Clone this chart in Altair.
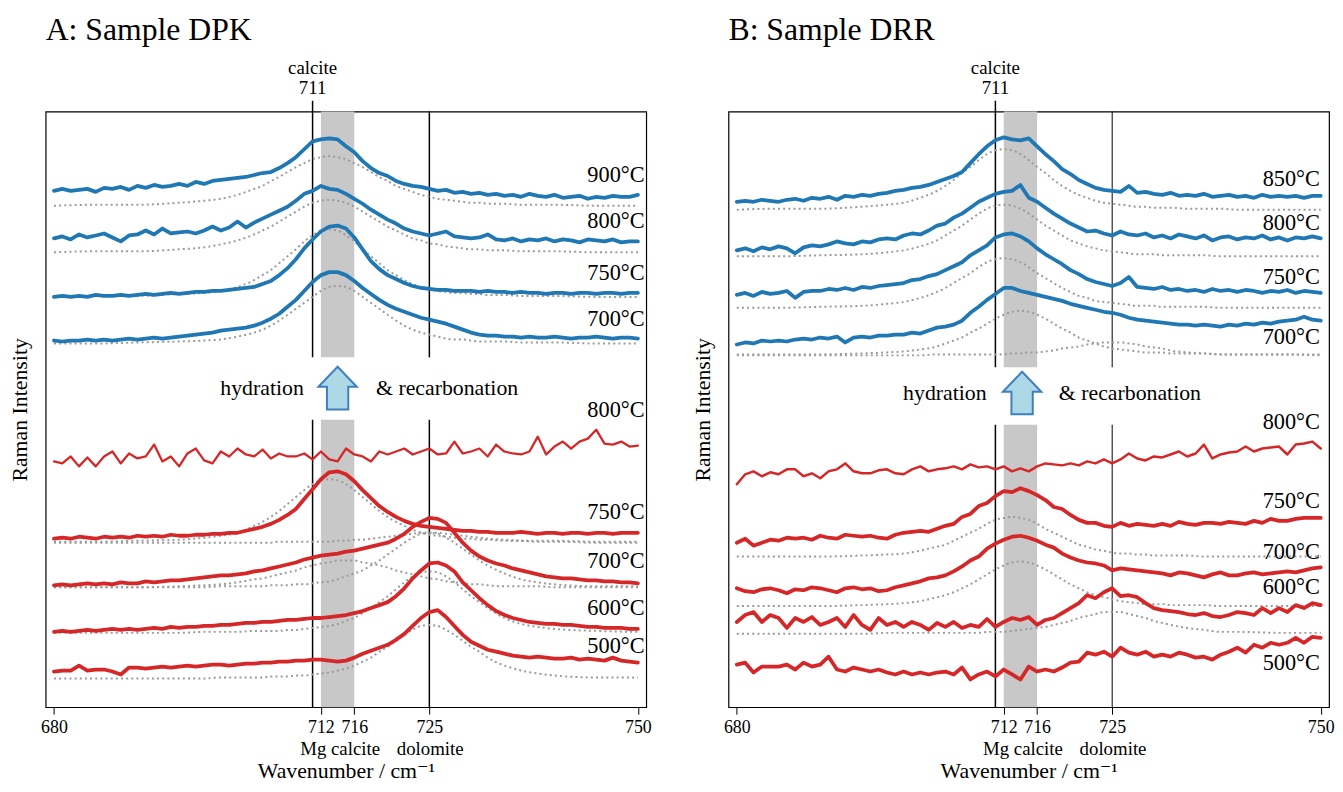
import altair as alt
import pandas as pd

# ---------------- data ----------------
WN = list(range(680, 751))          # spectrum sample grid (cm-1)
FX = [680, 685, 690, 695, 698, 700, 702, 704, 705, 706, 707, 708, 709, 710, 711,
      712, 713, 714, 715, 716, 717, 718, 719, 720, 721, 722, 723, 724, 725, 726,
      727, 728, 729, 730, 731, 732, 734, 736, 738, 740, 745, 750]   # fit sample grid

# Panel A (DPK) spectra, stacked intensity
A_900 = [521,523,521,522,523,520,524,523,525,522,
         526,524,527,525,526,528,526,530,528,531,
         532,533,534,535,537,539,540,544,549,555,
         563,571,573,574,573,566,560,551,544,539,
         536,531,528,526,525,523,521,522,519,520,
         518,519,517,518,516,517,515,518,516,515,
         517,514,515,516,513,515,514,516,515,515,
         517]
A_800 = [473,475,472,477,474,476,478,474,470,476,
         477,481,477,483,478,479,480,478,481,485,
         481,484,490,484,489,493,497,501,505,511,
         518,521,526,523,522,518,513,508,502,497,
         492,488,483,480,478,476,478,480,475,474,
         473,474,477,472,471,473,470,472,471,473,
         470,472,471,469,472,471,470,472,469,470,
         470]
A_750 = [414,415,414,415,414,416,415,415,416,415,
         416,417,416,417,418,417,418,419,419,420,
         420,421,422,423,424,427,430,436,443,452,
         463,472,480,485,486,483,474,462,450,442,
         436,432,428,425,423,422,421,421,420,420,
         420,419,420,419,419,418,419,418,418,417,
         418,418,417,418,418,417,418,418,417,418,
         418]
A_700 = [370,369,370,370,371,370,371,370,371,372,
         371,372,373,372,373,374,375,376,377,378,
         380,381,382,383,385,388,392,397,404,411,
         420,429,436,439,439,436,430,423,417,411,
         406,402,399,396,393,391,389,387,384,381,
         378,376,375,375,374,374,373,374,373,373,
         374,373,372,373,373,374,373,372,373,373,
         372]
AR_800 = [248,246,253,243,252,243,253,258,246,256,
          251,253,265,248,253,243,256,261,249,246,
          258,253,261,255,253,260,251,256,253,253,
          256,250,258,250,248,261,255,253,248,258,
          255,258,261,255,258,261,255,256,268,256,
          258,261,253,265,258,256,255,258,273,255,
          263,268,261,268,271,280,266,265,268,263,
          264]
AR_750 = [170,171,170,172,171,170,172,171,172,171,
          173,172,173,172,174,173,173,174,174,175,
          175,176,176,178,180,182,185,189,194,200,
          210,220,230,237,238,235,228,219,211,203,
          197,192,188,185,183,182,181,180,179,178,
          178,177,177,176,176,176,177,176,175,176,
          176,175,176,176,175,176,176,175,176,176,
          176]
AR_700 = [123,124,123,124,125,124,125,124,126,125,
          125,127,126,127,128,128,129,130,131,132,
          133,133,134,135,137,138,140,142,144,146,
          149,151,153,154,155,157,158,160,162,164,
          166,170,175,182,187,191,190,186,176,166,
          158,152,148,145,143,140,138,136,134,132,
          131,130,130,129,128,128,127,127,126,126,
          125]
AR_600 = [76,77,76,77,78,77,78,79,78,79,
          78,79,80,79,81,80,81,81,82,82,
          83,83,84,85,85,86,86,87,88,88,
          89,90,90,91,92,93,95,97,100,103,
          106,112,120,130,138,145,146,143,137,126,
          118,110,103,97,93,90,88,86,85,84,
          84,83,83,82,81,81,80,80,80,79,
          79]
AR_500 = [36,37,37,42,37,38,38,36,33,40,
          40,39,40,41,40,41,42,41,42,43,
          43,42,43,44,44,45,45,46,46,47,
          47,48,48,47,46,47,50,54,57,60,
          63,68,74,82,90,96,98,91,82,73,
          66,62,58,56,54,52,51,50,51,50,
          49,49,50,48,49,48,47,50,47,46,
          45]

# Panel B (DRR) spectra
B_850 = [510,511,510,512,511,510,512,513,511,514,
         513,515,512,516,515,517,516,518,519,521,
         522,524,525,527,530,533,536,540,549,558,
         566,572,575,573,572,574,566,558,551,543,
         538,532,528,524,522,521,520,526,519,520,
         518,517,519,516,517,516,518,515,516,517,
         515,516,514,517,515,516,515,516,514,516,
         516]
B_800 = [461,463,460,464,462,465,463,458,464,466,
         465,467,470,468,467,470,469,472,473,472,
         476,478,477,481,486,488,494,498,504,510,
         514,518,520,521,527,514,510,504,498,493,
         488,484,480,481,478,476,480,477,476,478,
         474,476,473,477,475,473,476,471,474,475,
         472,474,473,476,472,474,471,474,473,475,
         473]
B_750 = [416,418,415,419,417,418,420,413,419,420,
         420,422,421,423,421,424,423,425,426,427,
         428,431,432,435,437,441,445,449,456,461,
         466,474,477,478,475,470,463,457,452,447,
         441,437,432,429,427,425,428,434,424,423,
         422,424,421,422,420,421,419,422,420,421,
         419,421,420,418,420,419,421,418,420,419,
         418]
B_700 = [366,368,367,370,369,370,369,371,372,371,
         373,372,374,368,373,374,373,375,375,376,
         376,378,377,380,383,384,386,390,398,404,
         411,417,423,423,420,418,416,414,412,410,
         407,405,403,401,399,398,396,393,391,390,
         389,388,387,386,386,385,386,385,384,386,
         385,387,386,388,387,389,390,391,394,391,
         390]
BR_800 = [225,235,238,233,237,235,240,240,233,236,
          231,238,240,246,238,236,236,239,240,236,
          235,240,243,238,240,241,243,240,245,242,
          243,240,243,238,241,238,243,246,245,244,
          246,244,248,246,250,246,250,256,251,249,
          253,252,255,258,253,256,265,251,255,257,
          258,263,258,261,262,263,255,265,266,268,
          261]
BR_750 = [166,170,163,166,169,168,171,170,171,169,
          173,171,170,174,173,172,173,171,170,174,
          176,177,178,177,180,183,185,192,195,203,
          206,213,218,217,221,218,214,209,202,200,
          194,189,186,186,183,182,186,183,185,184,
          183,185,183,187,185,184,186,186,185,187,
          186,185,188,186,190,188,188,190,191,191,
          191]
BR_700 = [120,117,116,119,120,118,115,119,118,121,
          120,118,116,120,121,119,120,117,118,121,
          123,125,127,130,131,133,137,142,148,152,
          160,165,169,172,173,171,168,164,161,155,
          151,148,146,145,143,138,140,139,138,137,
          136,135,133,136,135,133,131,134,136,133,
          133,135,136,134,135,136,137,136,138,140,
          141]
BR_600 = [86,93,96,86,93,90,80,90,86,91,
          83,86,90,81,93,83,78,90,83,86,
          81,86,83,78,85,81,86,80,83,81,
          89,81,86,90,88,91,83,88,90,95,
          100,105,113,110,116,120,112,113,111,105,
          100,98,97,96,94,93,95,92,91,93,
          96,95,93,100,95,100,96,103,100,105,
          103]
BR_500 = [43,45,35,41,41,41,43,38,45,41,
          43,51,38,36,40,38,36,38,35,33,
          36,33,35,33,35,36,33,40,28,33,
          36,31,38,33,28,41,36,38,36,40,
          45,46,55,53,56,51,60,55,53,56,
          51,53,51,55,53,50,51,48,53,56,
          60,55,63,60,65,63,65,70,65,71,
          70]

# fitted components (height above their own baseline) and baselines
F_A900 = [1,2,2,4,6,8,12,18,21,26,30,35,40,44,48,50,51,50,48,44,40,35,30,26,21,18,15,12,10,8,7,6,5,4,4,3,3,2,2,2,1,1]
F_A800 = [1,2,2,4,6,9,13,19,23,27,32,37,42,47,51,53,54,53,51,47,42,37,32,27,23,19,15,13,10,9,7,6,5,4,4,3,3,2,2,2,1,1]
F_A750 = [1,2,2,4,5,7,11,18,23,28,35,42,49,57,63,68,69,68,63,57,49,42,35,28,23,18,14,11,9,7,6,5,5,4,4,3,3,2,2,2,1,1]
F_A700 = [1,1,2,3,4,5,8,12,15,19,24,30,36,42,48,54,58,59,58,54,48,42,36,30,24,19,15,12,10,8,6,5,5,4,3,3,3,2,2,2,1,1]
F_AR750a = [1,1,2,3,5,7,10,17,21,26,32,39,46,53,59,63,64,63,59,53,46,39,32,26,21,17,13,10,8,7,6,5,4,4,3,3,2,2,2,2,1,1]
F_AR750b = [0,0,0,0,0,0,0,0,0,0,1,1,1,1,1,1,1,2,2,3,3,4,5,6,7,8,9,10,10,10,9,8,7,6,5,4,3,2,1,1,0,0]
F_AR700a = [1,1,1,2,3,4,6,9,10,12,14,16,18,21,23,25,26,28,28,28,26,25,23,21,18,16,14,12,10,9,7,6,5,4,4,3,2,2,2,1,1,1]
F_AR700b = [1,1,1,1,1,2,2,2,2,3,3,3,4,4,5,6,7,9,12,15,18,23,28,34,40,46,51,55,56,55,51,46,40,34,28,23,15,9,6,4,2,2]
F_AR600 = [1,1,1,1,2,2,2,3,3,3,3,4,4,5,6,7,8,10,13,16,21,26,32,38,45,52,58,62,63,62,58,52,45,38,32,26,16,10,7,5,3,2]
F_AR500 = [1,1,1,1,1,2,2,2,2,3,3,3,4,4,5,6,7,9,11,14,18,22,28,33,39,45,50,54,55,54,50,45,39,33,28,22,14,9,6,4,2,2]
F_B850 = [1,2,2,4,6,8,13,20,25,31,38,44,51,57,61,62,61,57,51,44,38,31,25,20,16,13,10,8,7,6,5,4,4,3,3,3,2,2,2,1,1,1]
F_B800 = [1,1,2,3,5,7,11,17,22,27,32,38,44,49,52,53,52,49,44,38,32,27,22,17,14,11,9,7,6,5,4,3,3,3,2,2,2,2,1,1,1,1]
F_B750 = [1,1,2,3,5,7,11,17,21,26,31,36,42,47,50,51,50,47,42,36,31,26,21,17,13,11,8,7,6,5,4,3,3,3,2,2,2,2,1,1,1,1]
F_B700a = [1,1,1,2,3,4,6,9,12,15,18,23,27,32,37,41,44,45,44,41,37,32,27,23,18,15,12,9,7,6,5,4,3,3,3,2,2,2,1,1,1,1]
F_B700b = [0,0,0,0,0,0,0,1,1,1,1,1,1,1,1,1,2,2,3,3,4,5,7,8,9,11,12,13,13,13,12,11,9,8,7,5,3,2,1,1,1,0]
F_BR750 = [1,1,1,2,3,4,7,11,13,17,21,25,29,34,38,40,41,40,38,34,29,25,21,17,13,11,8,7,5,4,4,3,3,2,2,2,2,1,1,1,1,1]
F_BR700 = [1,1,1,2,3,4,6,10,12,15,19,23,28,33,38,42,45,46,45,42,38,33,28,23,19,15,12,10,8,6,5,4,3,3,3,2,2,2,1,1,1,1]
F_BR600 = [0,0,0,0,1,1,1,1,1,1,1,1,1,2,2,2,3,4,5,6,7,9,11,13,16,18,20,22,22,22,20,18,16,13,11,9,6,4,2,2,1,1]

A_TEMPS = ["900°C", "800°C", "750°C", "700°C", "800°C", "750°C", "700°C", "600°C", "500°C"]
A_TEMP_Y = [537, 491, 438, 392, 300, 197, 147, 100, 62]
B_TEMPS = ["850°C", "800°C", "750°C", "700°C", "800°C", "750°C", "700°C", "600°C", "500°C"]
B_TEMP_Y = [533, 489, 434, 373, 288, 208, 157, 121, 45]

X_TICKS = [680, 712, 716, 725, 750]

BLUE = "#1f77b4"
RED = "#d62728"

A_SPECTRA = [("a900", BLUE, 3.8, A_900), ("a800", BLUE, 3.8, A_800), ("a750", BLUE, 3.8, A_750),
             ("a700", BLUE, 3.8, A_700), ("ar800", RED, 2.3, AR_800), ("ar750", RED, 3.8, AR_750),
             ("ar700", RED, 3.8, AR_700), ("ar600", RED, 3.8, AR_600), ("ar500", RED, 3.8, AR_500)]
B_SPECTRA = [("b850", BLUE, 3.8, B_850), ("b800", BLUE, 3.8, B_800), ("b750", BLUE, 3.8, B_750),
             ("b700", BLUE, 3.8, B_700), ("br800", RED, 2.5, BR_800), ("br750", RED, 3.8, BR_750),
             ("br700", RED, 3.8, BR_700), ("br600", RED, 3.8, BR_600), ("br500", RED, 3.8, BR_500)]
A_FITS = [("f1", 505, F_A900), ("f2", 458, F_A800), ("f3", 413, F_A750), ("f4", 366, F_A700),
          ("f5", 166, F_AR750a), ("f6", 166, F_AR750b), ("f7", 120, F_AR700a), ("f8", 120, F_AR700b),
          ("f9", 74, F_AR600), ("f10", 28, F_AR500)]
B_FITS = [("g1", 501, F_B850), ("g2", 454, F_B800), ("g3", 402, F_B750), ("g4", 355, F_B700a),
          ("g5", 355, F_B700b), ("g6", 151, F_BR750), ("g7", 101, F_BR700), ("g8", 74, F_BR600)]

for _n, _c, _w, _v in A_SPECTRA + B_SPECTRA:
    assert len(_v) == len(WN), (_n, len(_v))
for _n, _b, _v in A_FITS + B_FITS:
    assert len(_v) == len(FX), (_n, len(_v))

FONT = "'Liberation Serif', 'Times New Roman', 'DejaVu Serif', serif"
W, H = 606, 601
ARROW = "M0,-1 L0.9,-0.06 L0.5,-0.06 L0.5,1 L-0.5,1 L-0.5,-0.06 L-0.9,-0.06 Z"


def panel(title, spectra, fits, temps, temp_y, temp_x, up_lo, low_hi, arrow_x, arrow_y, w725,
          hyd_x, rec_x):
    xs = alt.Scale(domain=[679, 751], nice=False)
    ys = alt.Scale(domain=[0, 601], nice=False, zero=False)
    xax = alt.Axis(values=X_TICKS, title="Wavenumber / cm⁻¹", format="d", labelFlush=False,
                   labelOverlap=False, grid=False, domain=False, ticks=True, tickSize=7,
                   tickColor="black", tickWidth=1, labelFontSize=18, labelPadding=5,
                   titleFontSize=22, titlePadding=24, labelFont=FONT, titleFont=FONT,
                   labelColor="black", titleColor="black", titleFontWeight="normal")
    yax = alt.Axis(title="Raman Intensity", labels=False, ticks=False, domain=False, grid=False,
                   titleFontSize=22, titlePadding=14, titleFont=FONT, titleColor="black",
                   titleFontWeight="normal")
    X = alt.X("x:Q", scale=xs, axis=xax)
    Y = alt.Y("y:Q", scale=ys, axis=yax)

    spec_rows = []
    for name, color, width, vals in spectra:
        for x, v in zip(WN, vals):
            spec_rows.append({"id": name, "x": x, "y": v, "c": color, "w": width})
    fit_rows = []
    for name, base, vals in fits:
        for x, v in zip(FX, vals):
            fit_rows.append({"id": name, "x": x, "y": base + v})
    band_df = pd.DataFrame([{"x": 712, "x2": 716, "y": up_lo, "y2": 601},
                            {"x": 712, "x2": 716, "y": 0, "y2": low_hi}])
    rule_df = pd.DataFrame([{"x": 711, "y": up_lo, "y2": 612, "w": 1.5},
                            {"x": 711, "y": 0, "y2": low_hi, "w": 1.5},
                            {"x": 725, "y": up_lo, "y2": 601, "w": w725},
                            {"x": 725, "y": 0, "y2": low_hi, "w": w725}])
    temp_df = pd.DataFrame({"x": [temp_x] * len(temps), "y": temp_y, "t": temps})
    top_df = pd.DataFrame({"x": [711, 711], "y": [645, 625], "t": ["calcite", "711"]})
    bot_df = pd.DataFrame({"x": [714.3, 725.1], "y": [-42, -42], "t": ["Mg calcite", "dolomite"]})
    hyd_df = pd.DataFrame({"x": [hyd_x], "y": [arrow_y], "t": ["hydration"]})
    rec_df = pd.DataFrame({"x": [rec_x], "y": [arrow_y], "t": ["& recarbonation"]})
    arr_df = pd.DataFrame({"x": [arrow_x], "y": [arrow_y]})

    band = alt.Chart(band_df).mark_rect(color="#c8c8c8").encode(x=X, x2="x2:Q", y=Y, y2="y2:Q")
    rules = alt.Chart(rule_df).mark_rule(color="black").encode(
        x=X, y=Y, y2="y2:Q", strokeWidth=alt.StrokeWidth("w:Q", scale=None))
    fitl = alt.Chart(pd.DataFrame(fit_rows)).mark_line(
        color="#9a9a9a", strokeWidth=2, strokeDash=[2, 3.2], interpolate="monotone").encode(
        x=X, y=Y, detail="id:N")
    lines = alt.Chart(pd.DataFrame(spec_rows)).mark_line(strokeJoin="round", strokeCap="round").encode(
        x=X, y=Y, detail="id:N", color=alt.Color("c:N", scale=None),
        strokeWidth=alt.StrokeWidth("w:Q", scale=None))
    tlab = alt.Chart(temp_df).mark_text(font=FONT, fontSize=22.5, align="right", baseline="middle",
                                        color="black").encode(x=X, y=Y, text="t:N")
    toplab = alt.Chart(top_df).mark_text(font=FONT, fontSize=19, align="center", baseline="middle",
                                         color="black").encode(x=X, y=Y, text="t:N")
    botlab = alt.Chart(bot_df).mark_text(font=FONT, fontSize=19, align="center", baseline="middle",
                                         color="black").encode(x=X, y=Y, text="t:N")
    hyd = alt.Chart(hyd_df).mark_text(font=FONT, fontSize=22, align="right", baseline="middle",
                                      color="black").encode(x=X, y=Y, text="t:N")
    rec = alt.Chart(rec_df).mark_text(font=FONT, fontSize=22, align="left", baseline="middle",
                                      color="black").encode(x=X, y=Y, text="t:N")
    arrow = alt.Chart(arr_df).mark_point(shape=ARROW, size=1850, filled=True, fill="#add8e6",
                                         stroke="#3f7fbf", strokeWidth=2, opacity=1).encode(x=X, y=Y)
    return alt.layer(band, rules, fitl, lines, tlab, toplab, botlab, hyd, rec, arrow).properties(
        width=W, height=H,
        title=alt.TitleParams(title, anchor="start", frame="group", fontSize=32, font=FONT,
                              fontWeight="normal", color="black", offset=12))


chart_a = panel("A: Sample DPK", A_SPECTRA, A_FITS, A_TEMPS, A_TEMP_Y, 750.8, 353, 290, 714.0, 322, 1.5,
                709.95, 718.6)
chart_b = panel("B: Sample DRR", B_SPECTRA, B_FITS, B_TEMPS, B_TEMP_Y, 749.9, 343, 285, 714.2, 317, 1.0,
                709.95, 718.6)

chart = alt.hconcat(chart_a, chart_b, spacing=39,
                    padding={"left": 0, "top": 2, "right": 0, "bottom": 0}).configure_view(
    stroke="black", strokeWidth=1.2)

chart.save("out.html", embed_options={"renderer": "svg", "actions": False})
